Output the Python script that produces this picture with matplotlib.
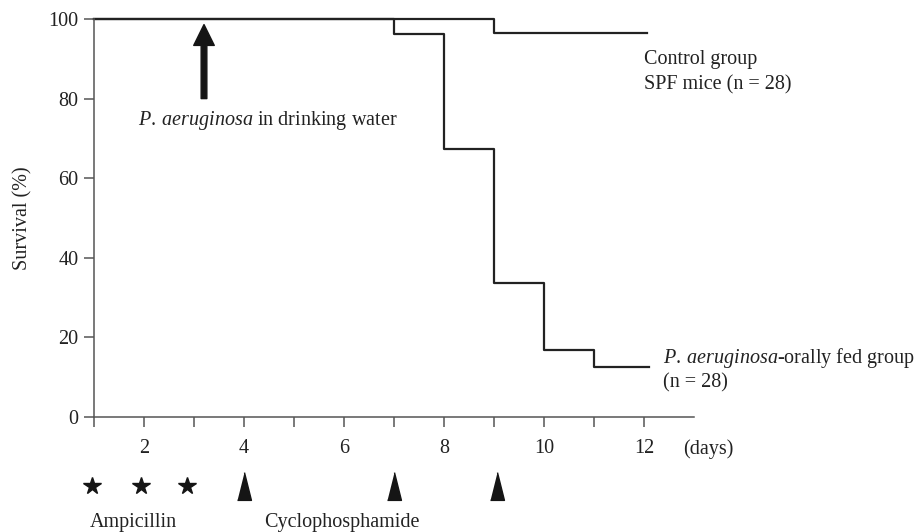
import matplotlib
matplotlib.use("Agg")
import matplotlib.pyplot as plt

# survival curves (Kaplan-Meier style steps)
ctrl_days = [1, 9, 12.05]
ctrl_surv = [100, 96.4, 96.4]
fed_days = [1, 7, 8, 9, 10, 11, 12.1]
fed_surv = [100, 96.2, 67.3, 33.6, 16.8, 12.6, 12.6]

# treatment schedule under the axis
ampicillin_days = [0.95, 1.94, 2.86]
cyclo_days = [4.0, 7.0, 9.06]
water_day = 3.2

x_ticks = list(range(1, 13))
x_labels = ['' if d % 2 else str(d) for d in x_ticks]
y_ticks = [0, 20, 40, 60, 80, 100]

plt.rcParams['font.family'] = 'Liberation Serif'
plt.rcParams['mathtext.fontset'] = 'custom'
plt.rcParams['mathtext.rm'] = 'Liberation Serif'
plt.rcParams['mathtext.it'] = 'Liberation Serif:italic'
fs = 14.5
ink = '#222222'
axc = '#555555'

fig = plt.figure(figsize=(9.17, 5.32), dpi=100)
ax = fig.add_axes([94 / 917, 115 / 532, 600 / 917, 398 / 532])

ax.plot(ctrl_days, ctrl_surv, drawstyle='steps-post', color=ink, lw=1.6, clip_on=False)
ax.plot(fed_days, fed_surv, drawstyle='steps-post', color=ink, lw=1.6, clip_on=False)

ax.set_xlim(1, 13)
ax.set_ylim(0, 100)
ax.set_xticks(x_ticks)
ax.set_xticklabels(x_labels)
ax.set_yticks(y_ticks)
ax.tick_params(axis='both', direction='out', length=7.2, width=1.1, color=axc,
               labelsize=fs, labelcolor=ink)
ax.tick_params(axis='x', pad=8.5)
ax.tick_params(axis='y', pad=4)
for s in ['top', 'right']:
    ax.spines[s].set_visible(False)
for s in ['left', 'bottom']:
    ax.spines[s].set_color(axc)
    ax.spines[s].set_linewidth(1.1)

ax.set_ylabel('Survival (%)', fontsize=fs, color=ink)
ax.yaxis.set_label_coords(-0.103, 0.5)

# arrow: bacteria added to drinking water
ax.annotate('', xy=(water_day, 98.6), xytext=(water_day, 80),
            arrowprops=dict(width=4.1, headwidth=14.8, headlength=15, shrink=0,
                            color='#151515'))
ax.text(1.88, 74.6, r'$\mathit{P.\:aeruginosa}$ in drinking water', fontsize=fs,
        color=ink, ha='left', va='center')

ax.text(12.0, 89.7, 'Control group', fontsize=fs, color=ink, ha='left', va='center')
ax.text(12.0, 83.4, 'SPF mice (n = 28)', fontsize=fs, color=ink, ha='left', va='center')
ax.text(12.38, 14.8, r'$\mathit{P.\:aeruginosa}$-orally fed group', fontsize=fs,
        color=ink, ha='left', va='center', clip_on=False)
ax.text(12.38, 8.7, '(n = 28)', fontsize=fs, color=ink, ha='left', va='center')
ax.text(12.78, -8.0, '(days)', fontsize=fs, color=ink, ha='left', va='center')

# dosing markers
tri = [(-0.5, -1), (0.5, -1), (0, 1)]
ax.plot(ampicillin_days, [-17.3] * len(ampicillin_days), ls='none', marker='*',
        ms=13, color='#151515', clip_on=False)
ax.plot(cyclo_days, [-17.3] * len(cyclo_days), ls='none', marker=tri,
        ms=20, color='#151515', clip_on=False)
ax.text(1.78, -26.6, 'Ampicillin', fontsize=fs, color=ink, ha='center', va='center')
ax.text(5.96, -26.6, 'Cyclophosphamide', fontsize=fs, color=ink, ha='center', va='center')

fig.savefig('out.png', dpi=100)
